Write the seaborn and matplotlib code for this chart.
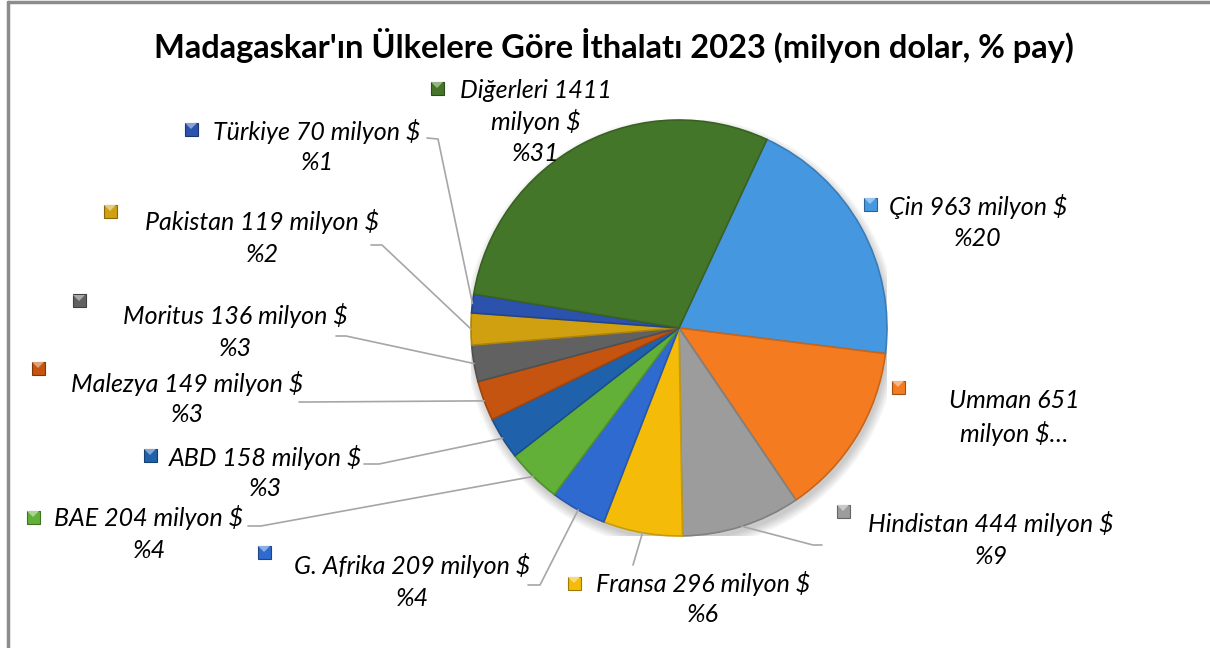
import numpy as np
import matplotlib.pyplot as plt
import matplotlib.colors as mcolors
from matplotlib.lines import Line2D
from matplotlib.patches import Rectangle, Circle, Polygon
import seaborn as sns

# data (clockwise from the top-right)
countries = ['Çin', 'Umman', 'Hindistan', 'Fransa', 'G. Afrika', 'BAE',
             'ABD', 'Malezya', 'Moritus', 'Pakistan', 'Türkiye', 'Diğerleri']
values = [963, 651, 444, 296, 209, 204, 158, 149, 136, 119, 70, 1411]
shares = [20, 14, 9, 6, 4, 4, 3, 3, 3, 2, 1, 31]
colors = ['#4598E0', '#F47B20', '#9C9C9C', '#F4BC08', '#2F6AD0', '#62B038',
          '#1F61AA', '#C4540F', '#616161', '#D0A010', '#2B52AC', '#44762A']

TITLE = "Madagaskar'ın Ülkelere Göre İthalatı 2023 (milyon dolar, % pay)"

# layout in pixels (from the top-left corner)
W, H = 1210, 648
CX, CY, R = 679, 328, 208
LINE_GAP = 32

text_pos = {
    'Çin': (978, 206), 'Umman': (1014, 401), 'Hindistan': (991, 524),
    'Fransa': (703, 583), 'G. Afrika': (412, 566), 'BAE': (149, 518),
    'ABD': (265, 457), 'Malezya': (187, 383), 'Moritus': (235, 316),
    'Pakistan': (262, 222), 'Türkiye': (317, 131), 'Diğerleri': (536, 90),
}
icon_pos = {
    'Çin': (870, 204), 'Umman': (898, 387), 'Hindistan': (843, 511),
    'Fransa': (574, 583), 'G. Afrika': (264, 552), 'BAE': (33, 517),
    'ABD': (150, 455), 'Malezya': (38, 368), 'Moritus': (79, 301),
    'Pakistan': (110, 211), 'Türkiye': (191, 129), 'Diğerleri': (437, 88),
}
# leader lines: points from the label side, the slice edge is added last
leaders = {
    'Türkiye': [(427, 138), (438, 139)],
    'Pakistan': [(371, 245), (382, 245)],
    'Moritus': [(336, 336), (346, 336)],
    'Malezya': [(299, 402), (309, 402)],
    'ABD': [(364, 464), (379, 464)],
    'BAE': [(248, 526), (261, 526)],
    'G. Afrika': [(528, 585), (540, 585)],
    'Fransa': [(633, 565)],
    'Hindistan': [(822, 545), (813, 545)],
}


def label_lines(country, value, share):
    if country == 'Diğerleri':
        return [f'{country} {value}', 'milyon $', f'%{share}']
    if country == 'Umman':
        return [f'{country} {value}', 'milyon $…']
    return [f'{country} {value} milyon $', f'%{share}']


def shade(c, f):
    r, g, b = mcolors.to_rgb(c)
    if f < 1:
        return (r * f, g * f, b * f)
    return tuple(x + (1 - x) * (f - 1) for x in (r, g, b))


def fx(x):
    return x / W


def fy(y):
    return 1 - y / H


sns.set_theme(style='white')
plt.rcParams['font.family'] = ['Lato', 'DejaVu Sans']

fig = plt.figure(figsize=(W / 100, H / 100), dpi=100)
fig.patch.set_facecolor('white')
ax = fig.add_axes([(CX - R) / W, (H - CY - R) / H, 2 * R / W, 2 * R / H])

# soft shadow under the pie
for k in range(6):
    ax.add_patch(Circle((0.01, -0.025), 1.0 + 0.008 * k, color='black',
                        alpha=0.035, lw=0, zorder=0))

wedges, _ = ax.pie(values, colors=colors, startangle=65, counterclock=False,
                   radius=1, wedgeprops=dict(linewidth=1.2))
for w, c in zip(wedges, colors):
    w.set_edgecolor(shade(c, 0.82))
    w.set_zorder(2)

ax.set_xlim(-1, 1)
ax.set_ylim(-1, 1)
ax.set_aspect('equal')
ax.axis('off')

fig.text(fx(614), fy(45), TITLE, ha='center', va='center',
         fontsize=23.5, fontweight='bold', color='black')

fig.canvas.draw()
for country, value, share, w, c in zip(countries, values, shares, wedges, colors):
    tx, ty = text_pos[country]
    for i, line in enumerate(label_lines(country, value, share)):
        fig.text(fx(tx), fy(ty + i * LINE_GAP), line, ha='center', va='center',
                 fontsize=18, fontstyle='italic', color='black')

    # legend-key style square with a light bevel on top
    ix, iy = icon_pos[country]
    fig.add_artist(Rectangle((fx(ix - 6.5), fy(iy + 6.5)), 13 / W, 13 / H,
                             transform=fig.transFigure, facecolor=c,
                             edgecolor=shade(c, 0.65), lw=0.8))
    fig.add_artist(Polygon([(fx(ix - 6), fy(iy - 6)), (fx(ix + 6), fy(iy - 6)),
                            (fx(ix), fy(iy))], closed=True,
                           transform=fig.transFigure,
                           facecolor=shade(c, 1.45), lw=0))

    if country in leaders:
        mid = np.radians((w.theta1 + w.theta2) / 2)
        dx, dy = ax.transData.transform((np.cos(mid), np.sin(mid)))
        pts = leaders[country]
        xs = [fx(p[0]) for p in pts] + [dx / W]
        ys = [fy(p[1]) for p in pts] + [dy / H]
        fig.add_artist(Line2D(xs, ys, transform=fig.transFigure,
                              color='#A6A6A6', lw=1.2, zorder=1))

# chart frame (left and top edges visible)
fig.add_artist(Line2D([fx(8), fx(8)], [0, fy(2)], transform=fig.transFigure,
                      color='#8C8C8C', lw=2.5))
fig.add_artist(Line2D([fx(8), 1], [fy(2), fy(2)], transform=fig.transFigure,
                      color='#8C8C8C', lw=2.5))

fig.savefig('out.png', dpi=100)
